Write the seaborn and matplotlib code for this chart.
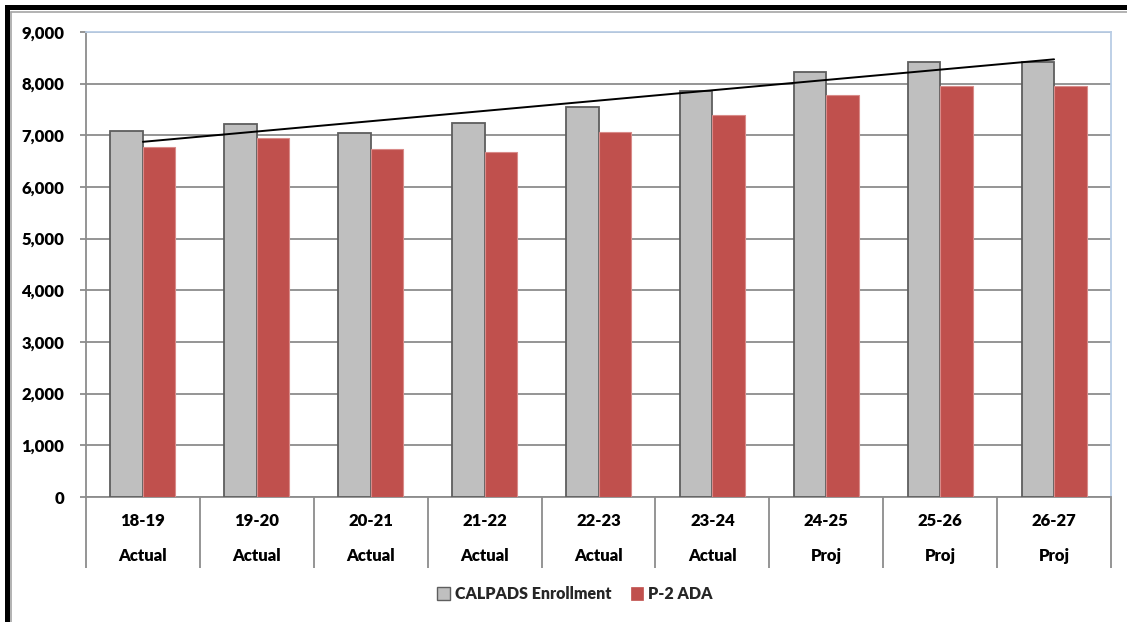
import numpy as np
import pandas as pd
import matplotlib
matplotlib.use("Agg")
import matplotlib.pyplot as plt
from matplotlib.patches import Patch, Rectangle
from matplotlib.lines import Line2D
from matplotlib.ticker import FuncFormatter
import seaborn as sns

# ---- data ----
years = ["18-19", "19-20", "20-21", "21-22", "22-23", "23-24", "24-25", "25-26", "26-27"]
status = ["Actual", "Actual", "Actual", "Actual", "Actual", "Actual", "Proj", "Proj", "Proj"]
enrollment = [7083, 7213, 7039, 7232, 7558, 7865, 8225, 8420, 8420]
ada = [6774, 6942, 6729, 6677, 7071, 7398, 7783, 7950, 7950]
series_names = ["CALPADS Enrollment", "P-2 ADA"]
y_ticks = list(range(0, 9001, 1000))

GRAY = "#BFBFBF"
GRAY_EDGE = "#5E5E5E"
RED = "#C0504D"
RED_EDGE = "#D98B89"
GRID = "#8C8C8C"
FRAME_BLUE = "#B9CDE5"
WEIGHT = "heavy"

df = pd.DataFrame({
    "year": years * 2,
    "value": enrollment + ada,
    "series": [series_names[0]] * len(years) + [series_names[1]] * len(years),
})

sns.set_theme(style="white")
plt.rcParams["font.family"] = ["Lato", "DejaVu Sans"]
plt.rcParams["font.weight"] = WEIGHT

W, H = 1127, 622
fig = plt.figure(figsize=(W / 100, H / 100), dpi=100)
fig.patch.set_facecolor("white")

ax = fig.add_axes([86 / W, (H - 497) / H, (1111 - 86) / W, (497 - 32) / H])

sns.barplot(data=df, x="year", y="value", hue="series", order=years,
            hue_order=series_names, palette=[GRAY, RED], width=0.57, gap=0,
            saturation=1, legend=False, ax=ax, zorder=3)

for p in ax.patches:
    fc = p.get_facecolor()
    if abs(fc[0] - fc[1]) < 0.05:  # gray bars
        p.set_edgecolor(GRAY_EDGE)
        p.set_linewidth(1.3)
    else:
        p.set_edgecolor(RED_EDGE)
        p.set_linewidth(0.8)

# linear trendline on enrollment
sns.regplot(x=np.arange(len(years)), y=np.array(enrollment, dtype=float), ax=ax,
            scatter=False, ci=None, truncate=True,
            line_kws=dict(color="black", lw=1.4, zorder=5))

ax.set_xlim(-0.5, len(years) - 0.5)
ax.set_ylim(0, 9000)
ax.set_yticks(y_ticks)
ax.yaxis.set_major_formatter(FuncFormatter(lambda v, _: f"{int(v):,}"))
ax.set_xlabel("")
ax.set_ylabel("")

ax.set_axisbelow(True)
ax.yaxis.grid(True, color=GRID, lw=1.3)
ax.xaxis.grid(False)

for side in ["top", "right"]:
    ax.spines[side].set_color(FRAME_BLUE)
    ax.spines[side].set_linewidth(1.3)
ax.spines["left"].set_color(GRID)
ax.spines["left"].set_linewidth(1.3)
ax.spines["bottom"].set_color(GRID)
ax.spines["bottom"].set_linewidth(1.3)

ax.tick_params(axis="y", which="major", left=True, length=4.3, width=1.3,
               color=GRID, pad=11.5, labelsize=12, labelcolor="black")
for lab in ax.get_yticklabels():
    lab.set_fontweight(WEIGHT)

# x axis: two-level categories
ax.set_xticks(range(len(years)))
ax.set_xticklabels([])
ax.tick_params(axis="x", which="major", length=0, bottom=False)
ax.set_xticks(np.arange(-0.5, len(years), 1.0), minor=True)
ax.tick_params(axis="x", which="minor", bottom=True, length=51, width=1.3,
               color=GRID, direction="out")

trans = ax.get_xaxis_transform()
y_row1 = -(521 - 497) / 465
y_row2 = -(556 - 497) / 465
for i, (yr, st) in enumerate(zip(years, status)):
    ax.text(i, y_row1, yr, transform=trans, ha="center", va="center",
            fontsize=12, fontweight=WEIGHT, color="black")
    ax.text(i, y_row2, st, transform=trans, ha="center", va="center",
            fontsize=12, fontweight=WEIGHT, color="black")

# legend
handles = [Patch(facecolor=GRAY, edgecolor=GRAY_EDGE, lw=1.0, label=series_names[0]),
           Patch(facecolor=RED, edgecolor=RED, lw=0.5, label=series_names[1])]
leg = fig.legend(handles=handles, loc="center", bbox_to_anchor=(575 / W, 1 - 594 / H),
                 ncol=2, frameon=False, handlelength=0.8, handleheight=0.8,
                 handletextpad=0.3, columnspacing=1.2,
                 prop=dict(size=11.5, weight=WEIGHT))

# outer frame: thick black top/left, thin gray inner line
fig.add_artist(Rectangle((5 / W, 1 - 10 / H), 1 - 5 / W, 5 / H, transform=fig.transFigure,
                         facecolor="black", edgecolor="none"))
fig.add_artist(Rectangle((5 / W, 0), 5 / W, 1 - 5 / H, transform=fig.transFigure,
                         facecolor="black", edgecolor="none"))
fig.add_artist(Line2D([11.5 / W, 1], [1 - 11.5 / H, 1 - 11.5 / H], transform=fig.transFigure,
                      color="#A6A6A6", lw=1.2))
fig.add_artist(Line2D([11.5 / W, 11.5 / W], [0, 1 - 11.5 / H], transform=fig.transFigure,
                      color="#A6A6A6", lw=1.2))

fig.savefig("out.png", dpi=100, facecolor="white")
